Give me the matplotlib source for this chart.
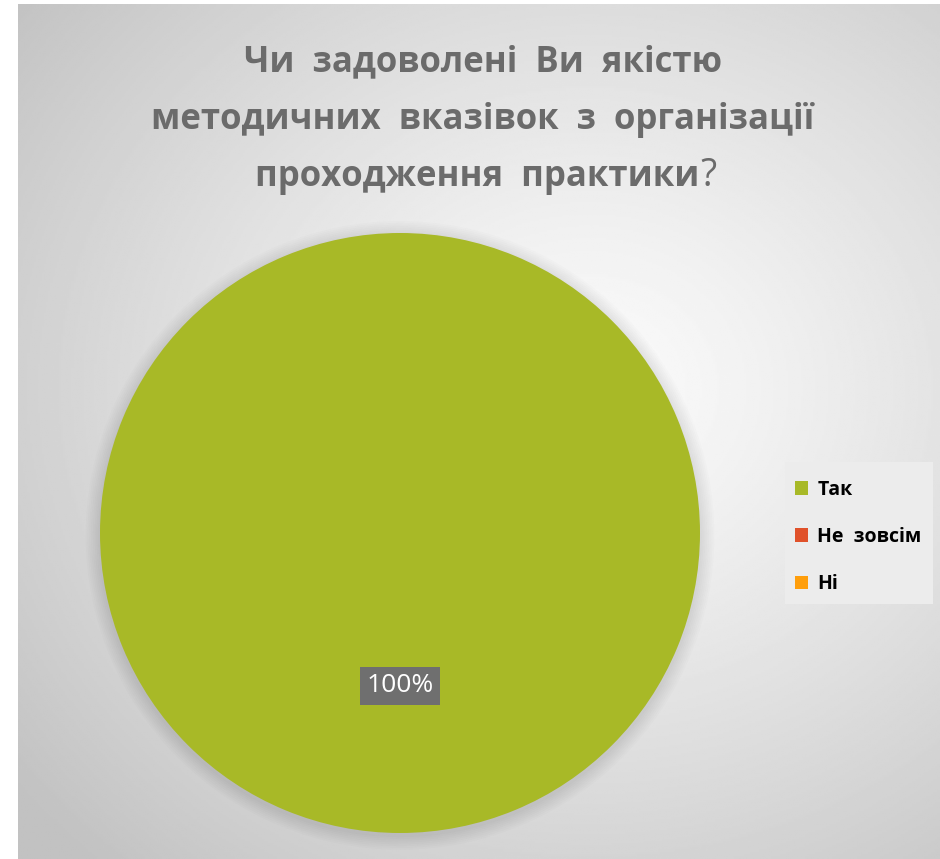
import matplotlib.pyplot as plt
from matplotlib.patches import Rectangle
import numpy as np

labels = ['Так', 'Не  зовсім', 'Ні']
values = [100, 0, 0]
colors = ['#A8B927', '#E0512A', '#FF9E0B']
title_lines = ['Чи  задоволені  Ви  якістю',
               'методичних  вказівок  з  організації',
               'проходження  практики']

W, H = 940, 859
fig = plt.figure(figsize=(W / 100, H / 100), dpi=100)
fig.patch.set_facecolor('white')

# radial grey gradient background, lightest right of centre
bg = fig.add_axes([18 / W, 0, 1 - 18 / W, 1 - 4 / H])
bg.set_axis_off()
yy, xx = np.mgrid[0:1:400j, 0:1:440j]
d = np.sqrt(((xx - 0.62) / 1.0) ** 2 + ((yy - 0.45) / 0.95) ** 2) / 0.75
grad = np.clip(0.985 - 0.21 * d ** 1.2, 0.76, 1)
bg.imshow(grad, cmap='gray', vmin=0, vmax=1, aspect='auto', extent=[0, 1, 0, 1])

# title
ty = [62, 120, 177]
for i, line in enumerate(title_lines[:2]):
    fig.text(483 / W, 1 - ty[i] / H, line, ha='center', va='center',
             fontsize=25, fontweight='bold', color='#6b6b6b', family='Open Sans')
fig.text(699 / W, 1 - ty[2] / H, title_lines[2], ha='right', va='center',
         fontsize=25, fontweight='bold', color='#6b6b6b', family='Open Sans')
fig.text(700 / W, 1 - 176 / H, '?', ha='left', va='center',
         fontsize=27, color='#6b6b6b', family='Open Sans')

# pie
ax = fig.add_axes([100 / W, 26 / H, 600 / W, 600 / H])
# soft shadow
for k in range(8):
    ax.add_patch(plt.Circle((0.0, -0.008), 1.0 + 0.006 * (k + 1), color='black',
                            alpha=0.012, zorder=0, lw=0, clip_on=False))
wedges, texts, autotexts = ax.pie(
    values, colors=colors, startangle=90, counterclock=False,
    autopct=lambda p: '%d%%' % round(p) if p > 0 else '', pctdistance=0.51,
    textprops=dict(color='white', fontsize=19, family='Open Sans'))
for t in autotexts:
    if t.get_text():
        t.set_bbox(dict(boxstyle='square,pad=0.25', facecolor='#6f6f6f',
                        edgecolor='none'))
ax.set_xlim(-1, 1)
ax.set_ylim(-1, 1)
ax.set_aspect('equal')

# legend box
fig.patches.append(Rectangle((785 / W, 1 - 604 / H), 148 / W, 142 / H,
                             transform=fig.transFigure, facecolor='#ececec',
                             edgecolor='none', zorder=1))
leg = fig.legend(wedges, labels, loc='center left',
                 bbox_to_anchor=(789 / W, 1 - 537 / H), frameon=False,
                 prop=dict(family='Open Sans', weight='bold', size=14),
                 handlelength=0.7, handleheight=0.7, handletextpad=0.45,
                 labelspacing=1.4, borderpad=0.3, borderaxespad=0)

fig.savefig('out.png', dpi=100)
